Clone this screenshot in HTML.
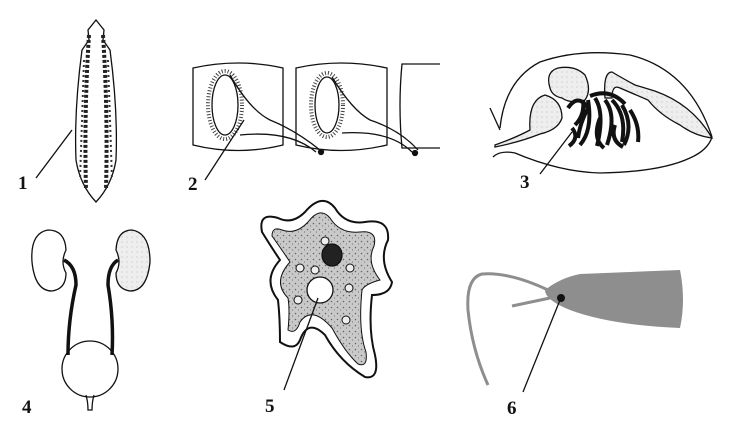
<!DOCTYPE html>
<html><head><style>
html,body{margin:0;padding:0;background:#fff;}
svg{display:block}
text{font-family:"Liberation Serif",serif;font-size:19px;font-weight:bold;fill:#111}
</style></head><body>
<svg width="734" height="430" viewBox="0 0 734 430" xmlns="http://www.w3.org/2000/svg">
<defs>
<pattern id="dots" width="6" height="6" patternUnits="userSpaceOnUse">
<rect width="6" height="6" fill="#c9c9c9"/><circle cx="1.5" cy="1.5" r="0.8" fill="#666"/><circle cx="4.5" cy="4" r="0.6" fill="#777"/>
</pattern>
<pattern id="lt" width="5" height="5" patternUnits="userSpaceOnUse">
<rect width="5" height="5" fill="#eee"/><circle cx="2" cy="2" r="0.5" fill="#aaa"/>
</pattern>
</defs>
<g fill="none" stroke="#111" stroke-width="1.3">
<!-- 1 flatworm -->
<path d="M96 20 L104 30 L103 40 L110 50 Q118 110 116 160 Q112 185 96 202 Q80 185 76 160 Q74 110 82 50 L89 40 L88 30 Z"/>
<path d="M89 35 Q84 110 86 190 M103 35 Q108 110 106 190" stroke="#222" stroke-width="4" stroke-dasharray="3 2"/>
<path d="M84 60 L80 180 M108 60 L112 180" stroke="#333" stroke-width="2" stroke-dasharray="2 3"/>
<line x1="36" y1="178" x2="72" y2="130"/>
<!-- 2 flame cells -->
<path d="M193 68 Q238 58 283 68 L283 145 Q238 156 193 145 Z"/>
<path d="M296 68 Q341 58 387 68 L387 145 Q341 156 296 145 Z"/>
<path d="M440 64 L402 64 Q398 105 402 148 L440 148"/>
<ellipse cx="225" cy="105" rx="13" ry="30"/>
<ellipse cx="225" cy="105" rx="17" ry="34" stroke-dasharray="1 2" stroke-width="4" stroke="#444"/>
<path d="M230 75 Q250 110 270 120 Q295 130 320 150 M240 135 Q290 130 316 152"/>
<ellipse cx="327" cy="105" rx="12" ry="28"/>
<ellipse cx="327" cy="105" rx="16" ry="32" stroke-dasharray="1 2" stroke-width="4" stroke="#444"/>
<path d="M332 77 Q352 110 370 120 Q400 130 418 150 M342 133 Q390 130 412 152"/>
<circle cx="321" cy="152" r="2.5" fill="#111"/><circle cx="415" cy="153" r="2.5" fill="#111"/>
<line x1="205" y1="180" x2="244" y2="120"/>
<!-- 3 -->
<path d="M500 128 Q505 80 540 62 Q580 48 630 55 Q690 70 712 137"/>
<path d="M490 108 L500 130"/>
<path d="M493 157 Q500 150 515 153 Q560 172 600 173 Q660 172 690 158 Q708 150 712 137"/>
<path d="M495 145 Q515 138 530 130 Q528 100 545 95 Q562 100 562 118 Q558 130 540 134 Q520 142 495 147 Z" fill="url(#lt)"/>
<path d="M550 88 Q545 72 558 68 Q575 65 585 75 Q592 90 585 100 Q570 104 562 98 Q552 96 550 88 Z" fill="url(#lt)"/>
<path d="M605 98 Q603 72 612 72 Q622 78 635 85 L645 88 Q690 100 712 138 Q695 136 680 125 Q660 115 648 100 L620 88 Q612 84 612 98 Z" fill="url(#lt)"/>
<path d="M568 108 q10 -15 20 0 q-8 15 -10 30 M575 125 q10 -10 8 -25 M588 100 q5 30 -8 45 M595 98 q10 15 2 48 M605 100 q12 15 2 45 M612 100 q15 15 10 42 M622 105 q12 20 2 40 M630 110 q10 15 8 32 M590 96 q20 -8 35 8 M572 128 q8 10 -3 18 M600 118 q-8 20 4 30 M615 125 q-5 15 8 22" stroke-width="4" stroke="#111"/>
<line x1="540" y1="174" x2="572" y2="132"/>
<!-- 4 kidneys -->
<path d="M48 230 Q30 233 32 262 Q35 291 52 291 Q66 289 66 273 Q60 262 66 250 Q65 230 48 230 Z"/>
<path d="M132 230 Q150 233 150 262 Q147 291 130 291 Q116 289 116 273 Q122 262 116 250 Q117 230 132 230 Z" fill="url(#lt)"/>
<path d="M64 260 Q76 266 76 285 Q68 320 68 355" stroke-width="3.5"/>
<path d="M118 260 Q108 266 108 285 Q114 320 112 355" stroke-width="3.5"/>
<circle cx="90" cy="369" r="28"/>
<path d="M86 395 Q88 402 88 410 L92 410 Q92 402 94 395"/>
<!-- 5 amoeba -->
<path d="M262 232 Q258 212 278 218 Q292 225 305 212 Q322 192 335 208 Q345 225 365 222 Q390 218 388 240 Q378 260 392 282 Q390 295 372 295 Q368 330 375 355 Q380 380 365 377 Q340 362 325 335 Q308 318 300 340 Q295 352 280 342 Q280 318 278 300 Q262 280 280 260 Q270 245 262 232 Z" stroke-width="2"/>
<path d="M272 236 Q272 226 282 230 Q296 235 308 222 Q320 206 330 218 Q340 234 360 232 Q378 230 374 246 Q366 262 380 280 Q365 284 362 290 Q358 330 366 352 Q368 368 358 364 Q345 352 332 328 Q312 305 300 322 Q296 335 288 330 Q290 310 288 298 Q272 282 290 262 Q282 250 272 236 Z" fill="url(#dots)" stroke-width="1"/>
<ellipse cx="332" cy="255" rx="10" ry="11" fill="#222"/>
<circle cx="320" cy="290" r="13" fill="#fff"/>
<g stroke-width="1" fill="#eee"><circle cx="325" cy="241" r="4"/><circle cx="300" cy="268" r="4"/><circle cx="315" cy="270" r="4"/><circle cx="350" cy="268" r="4"/><circle cx="349" cy="288" r="4"/><circle cx="298" cy="300" r="4"/><circle cx="346" cy="320" r="4"/></g>
<line x1="284" y1="390" x2="318" y2="298"/>
<!-- 6 euglena -->
<path d="M545 290 Q560 278 580 274 L680 270 Q686 300 680 328 Q610 325 570 310 Q545 300 545 290 Z" fill="#8e8e8e" stroke="none"/>
<path d="M548 290 Q510 272 482 274 Q466 278 468 310 Q472 350 488 385" stroke="#8e8e8e" stroke-width="3"/>
<path d="M550 298 L512 306" stroke="#8e8e8e" stroke-width="3"/>
<circle cx="561" cy="298" r="4" fill="#111" stroke="none"/>
<line x1="523" y1="392" x2="560" y2="300"/>
</g>
<text x="18" y="189">1</text>
<text x="188" y="190">2</text>
<text x="520" y="188">3</text>
<text x="22" y="413">4</text>
<text x="265" y="412">5</text>
<text x="507" y="414">6</text>
</svg>
</body></html>
